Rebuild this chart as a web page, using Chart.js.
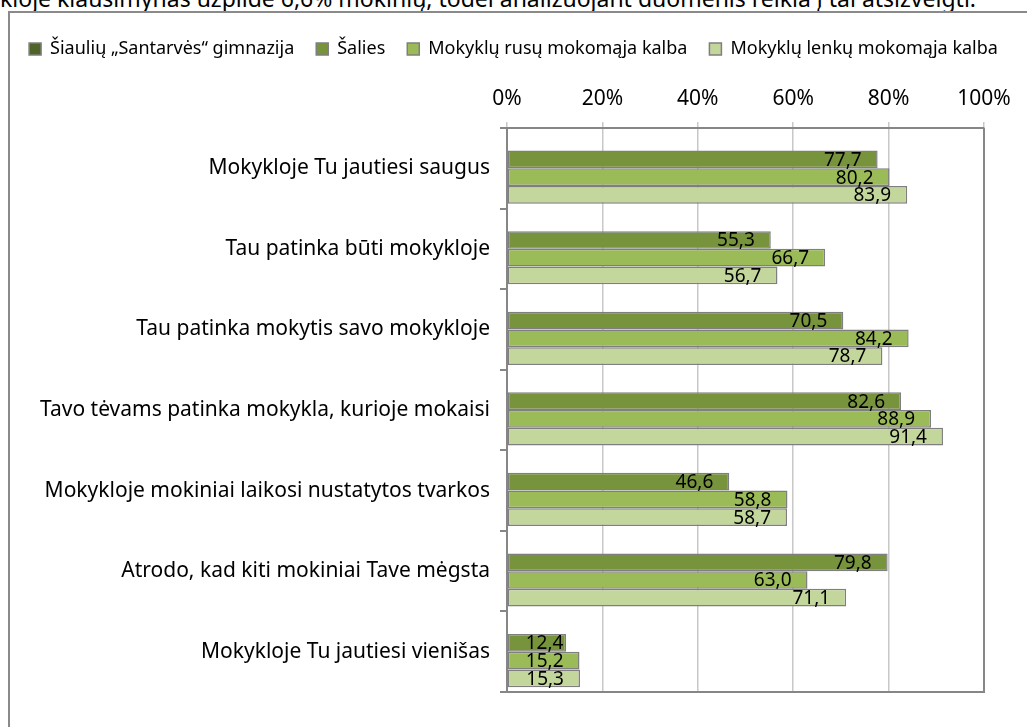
<!DOCTYPE html>
<html>
<head>
<meta charset="utf-8">
<script src="https://cdn.jsdelivr.net/npm/chart.js@4"></script>
<style>
  body { margin: 0; background: #fff; overflow: hidden; }
  #note { position: absolute; left: 0; top: -16px; font: 23px "Noto Sans"; line-height: 28px; white-space: nowrap; color: #000; }
  #frame { position: absolute; left: 8px; top: 11px; width: 1040px; height: 740px; border: 2px solid #8a8a8a; }
  #wrap { position: absolute; left: 0; top: 0; width: 1027px; height: 727px; }
</style>
</head>
<body>
<div id="note">kloje klausimynas užpildė 6,6% mokinių, todėl analizuojant duomenis reikia į tai atsižvelgti.</div>
<div id="frame"></div>
<div id="wrap"><canvas id="chart"></canvas></div>
<script>
const categories = [
  "Mokykloje Tu jautiesi saugus",
  "Tau patinka būti mokykloje",
  "Tau patinka mokytis savo mokykloje",
  "Tavo tėvams patinka mokykla, kurioje mokaisi",
  "Mokykloje mokiniai laikosi nustatytos tvarkos",
  "Atrodo, kad kiti mokiniai Tave mėgsta",
  "Mokykloje Tu jautiesi vienišas"
];
const seriesNames = [
  "Šiaulių „Santarvės“ gimnazija",
  "Šalies",
  "Mokyklų rusų mokomąja kalba",
  "Mokyklų lenkų mokomąja kalba"
];
const gimnazija = [null, null, null, null, null, null, null]; // no values, keeps its slot
const salies = [77.7, 55.3, 70.5, 82.6, 46.6, 79.8, 12.4];
const rusu   = [80.2, 66.7, 84.2, 88.9, 58.8, 63.0, 15.2];
const lenku  = [83.9, 56.7, 78.7, 91.4, 58.7, 71.1, 15.3];
const xTicks = [0, 20, 40, 60, 80, 100];

const FONT = "Noto Sans";
const AXIS = "#868686";
const PAD = { top: 18, right: 0, bottom: 35, left: 0 };

// value labels inside the bar ends, with a decimal comma
const barLabels = {
  id: "barLabels",
  afterDatasetsDraw(chart) {
    const ctx = chart.ctx;
    ctx.save();
    ctx.font = "19px " + FONT;
    ctx.fillStyle = "#000";
    ctx.textAlign = "right";
    ctx.textBaseline = "middle";
    chart.data.datasets.forEach((ds, i) => {
      chart.getDatasetMeta(i).data.forEach((bar, j) => {
        if (ds.data[j] == null) return;
        const txt = ds.data[j].toFixed(1).replace(".", ",");
        const w = ctx.measureText(txt).width;
        const right = Math.max(bar.x - 16, bar.base + w + 18);
        ctx.fillText(txt, right, bar.y + 1);
      });
    });
    ctx.restore();
  }
};

// right and bottom edges of the plot area
const plotFrame = {
  id: "plotFrame",
  afterDatasetsDraw(chart) {
    const {left, right, bottom, top} = chart.chartArea;
    const ctx = chart.ctx;
    ctx.save();
    ctx.strokeStyle = AXIS;
    ctx.lineWidth = 2;
    ctx.beginPath();
    ctx.moveTo(left, bottom);
    ctx.lineTo(right, bottom);
    ctx.lineTo(right, top);
    ctx.stroke();
    ctx.restore();
  }
};

const common = {
  yAxisID: "y",
  borderColor: "#7f7f7f", borderWidth: 1.5, borderSkipped: false,
  categoryPercentage: 0.88, barPercentage: 1
};

new Chart(document.getElementById("chart"), {
  type: "bar",
  data: {
    labels: categories,
    datasets: [
      { ...common, label: seriesNames[0], data: gimnazija, backgroundColor: "#4F6228" },
      { ...common, label: seriesNames[1], data: salies, backgroundColor: "#77933C" },
      { ...common, label: seriesNames[2], data: rusu, backgroundColor: "#9BBB59" },
      { ...common, label: seriesNames[3], data: lenku, backgroundColor: "#C3D69B" }
    ]
  },
  options: {
    indexAxis: "y",
    responsive: true,
    maintainAspectRatio: false,
    animation: false,
    layout: { padding: PAD },
    plugins: {
      legend: {
        position: "top",
        labels: { font: { family: FONT, size: 18 }, color: "#000", boxWidth: 12, boxHeight: 12, padding: 22 }
      },
      tooltip: { enabled: false }
    },
    scales: {
      x: {
        position: "top",
        min: 0,
        max: 100,
        afterBuildTicks: s => { s.ticks = xTicks.map(v => ({ value: v })); },
        afterFit: s => { s.height = 128 - PAD.top - s.chart.legend.height; },
        ticks: { callback: v => v + "%", font: { family: FONT, size: 21 }, color: "#000", padding: 10 },
        grid: { color: "#c8c8c8", lineWidth: 1.5, tickLength: 6 },
        border: { color: AXIS, width: 2 }
      },
      y: {
        afterFit: s => { s.width = 507; },
        ticks: { font: { family: FONT, size: 21 }, color: "#000", padding: 10 },
        grid: { drawOnChartArea: false, color: AXIS, lineWidth: 2, tickLength: 7, offset: true },
        border: { color: AXIS, width: 2 }
      },
      // empty margin on the right of the plot
      yRight: {
        type: "linear",
        position: "right",
        afterFit: s => { s.width = 1027 - 984; },
        ticks: { display: false },
        grid: { display: false },
        border: { display: false }
      }
    }
  },
  plugins: [barLabels, plotFrame]
});
</script>
</body>
</html>
